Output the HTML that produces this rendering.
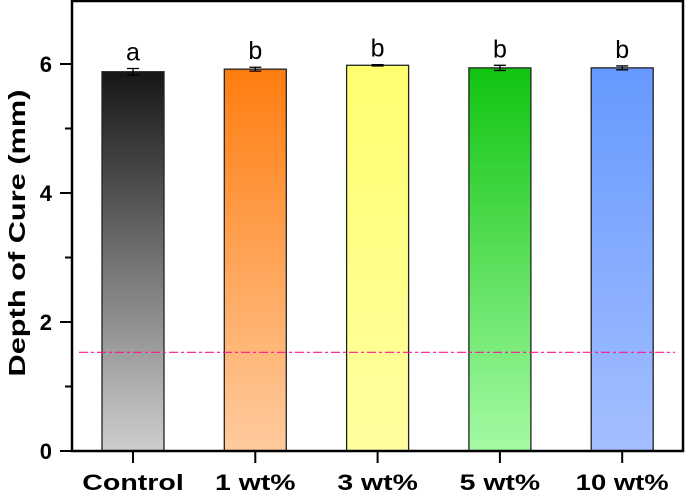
<!DOCTYPE html>
<html><head><meta charset="utf-8"><style>
body{margin:0;background:#fff;}
svg{display:block;font-family:"Liberation Sans",Arial,sans-serif;}
</style></head><body>
<svg id="c" width="685" height="494">
<defs>
<linearGradient id="g0" x1="0" y1="0" x2="0" y2="1"><stop offset="0" stop-color="#161616"/><stop offset="1" stop-color="#cecece"/></linearGradient>
<linearGradient id="g1" x1="0" y1="0" x2="0" y2="1"><stop offset="0" stop-color="#ff7d10"/><stop offset="1" stop-color="#ffcb9e"/></linearGradient>
<linearGradient id="g2" x1="0" y1="0" x2="0" y2="1"><stop offset="0" stop-color="#ffff70"/><stop offset="1" stop-color="#ffffa0"/></linearGradient>
<linearGradient id="g3" x1="0" y1="0" x2="0" y2="1"><stop offset="0" stop-color="#10c410"/><stop offset="1" stop-color="#a4faa4"/></linearGradient>
<linearGradient id="g4" x1="0" y1="0" x2="0" y2="1"><stop offset="0" stop-color="#6699ff"/><stop offset="1" stop-color="#a4bfff"/></linearGradient>
</defs>
<g id="bars"></g>
<line x1="79" x2="675" id="ref" stroke="#ff1493" stroke-width="1.2" stroke-dasharray="9,3,3,3"/>
<rect x="72" y="1" width="611" height="450" fill="none" stroke="#000" stroke-width="2.5"/>
<g id="axes"></g>
<text transform="translate(25,233) rotate(-90)" text-anchor="middle" font-size="23" font-weight="bold" textLength="287" lengthAdjust="spacingAndGlyphs">Depth of Cure (mm)</text>
</svg>
<script>
const categories=["Control","1 wt%","3 wt%","5 wt%","10 wt%"];
const values=[5.88,5.92,5.98,5.94,5.94];
const errors=[0.05,0.03,0.01,0.04,0.03];
const letters=["a","b","b","b","b"];
const yTicks=[0,2,4,6];
const minorTicks=[1,3,5];
const refValue=1.53;
const NS="http://www.w3.org/2000/svg";
const y=v=>451-v*64.5;
const x=i=>133+i*122.3;
function mk(t,a,p){const e=document.createElementNS(NS,t);for(const k in a)e.setAttribute(k,a[k]);p.appendChild(e);return e;}
const bars=document.getElementById('bars'),axes=document.getElementById('axes');
categories.forEach((c,i)=>{
 const r=mk('rect',{x:x(i)-31,y:y(values[i]),width:62,height:451-y(values[i]),fill:`url(#g${i})`,stroke:'#222','stroke-width':1.3},bars);
 
 
 const eg=mk('path',{d:`M${x(i)} ${y(values[i]+errors[i])}V${y(values[i]-errors[i])}M${x(i)-6} ${y(values[i]+errors[i])}h12M${x(i)-6} ${y(values[i]-errors[i])}h12`,stroke:'#000','stroke-width':1.3,fill:'none'},bars);
 
 
 const l=mk('text',{x:x(i),y:y(values[i]+errors[i])-8,'text-anchor':'middle','font-size':25},bars);l.textContent=letters[i];
 
 
 mk('line',{x1:x(i),x2:x(i),y1:451,y2:463,stroke:'#000','stroke-width':2},axes);
 const w=c.length*12.5+(c.length>6?14:18);
 const t=mk('text',{x:x(i),y:490,'text-anchor':'middle','font-size':22,'font-weight':'bold',textLength:w,lengthAdjust:'spacingAndGlyphs'},axes);t.textContent=c;
 
 
});
yTicks.forEach(v=>{
 mk('line',{x1:60,x2:72,y1:y(v),y2:y(v),stroke:'#000','stroke-width':2},axes);
 const t=mk('text',{x:52,y:y(v)+8,'text-anchor':'end','font-size':22,'font-weight':'bold'},axes);t.textContent=v;
 
 
});
minorTicks.forEach(v=>mk('line',{x1:65,x2:72,y1:y(v),y2:y(v),stroke:'#000','stroke-width':2},axes));
const ref=document.getElementById('ref');ref.setAttribute('y1',y(refValue));ref.setAttribute('y2',y(refValue));
</script>
</body></html>
